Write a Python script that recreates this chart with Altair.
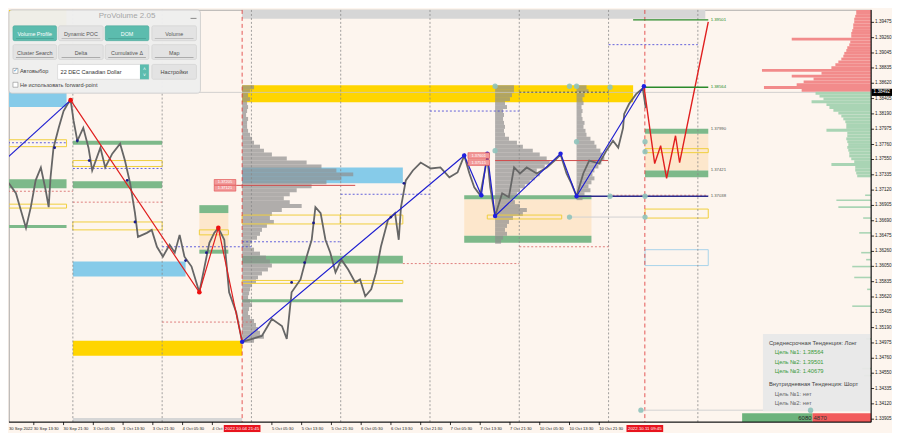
import altair as alt
import pandas as pd
import numpy as np

# ---------------- data ----------------
# x = trading-hour index counted from 30 Sep 2022 05:30 (weekend removed), y = USDCAD price
X_TICKS = [0, 8, 16, 24, 32, 40, 48, 56, 72, 80, 88, 96, 104, 112, 120, 128, 136, 144, 152, 160]
X_TICK_LABELS = ["30 Sep 2022", "30 Sep 13:30", "30 Sep 21:30", "3 Oct 05:30", "3 Oct 13:30",
                 "3 Oct 21:30", "4 Oct 05:30", "4 Oct", "5 Oct 05:30", "5 Oct 13:30",
                 "5 Oct 21:30", "6 Oct 05:30", "6 Oct 13:30", "6 Oct 21:30", "7 Oct 05:30",
                 "7 Oct 13:30", "7 Oct 21:30", "10 Oct 05:30", "10 Oct 13:30", "10 Oct 21:30"]
Y_TICKS = [1.39690, 1.39475, 1.39260, 1.39045, 1.38835, 1.38620, 1.38405, 1.38190, 1.37975,
           1.37760, 1.37550, 1.37335, 1.37120, 1.36905, 1.36690, 1.36475, 1.36260, 1.36050,
           1.35835, 1.35620, 1.35405, 1.35190, 1.34975, 1.34760, 1.34550, 1.34335, 1.34120, 1.33905]
TIME_MARKS_H = [64.0, 172.25]
TIME_MARKS_TXT = ["2022.10.04 21:45", "2022.10.11 09:45"]
CURRENT_PRICE = 1.38492

PRICE_H = [-0.8, 1.3, 3.2, 4.5, 5.9, 7.2, 8.5, 9.9, 11.2, 12.0, 12.5, 13.3, 14.7, 16.0, 17.1, 17.9,
           18.7, 19.7, 21.3, 22.7, 23.7, 25.9, 27.2, 29.1, 31.2, 32.5, 33.9, 35.2, 36.0, 38.4, 39.7,
           41.1, 42.7, 44.5, 45.9, 47.2, 48.5, 50.4, 52.5, 53.9, 55.2, 56.5, 57.6, 59.2, 60.5, 62.4,
           64.0, 66.7, 69.3, 72.0, 74.7, 76.0, 77.3, 79.7, 81.1, 82.7, 83.7, 85.1, 86.4, 87.7, 89.1,
           90.7, 92.5, 94.4, 95.7, 97.1, 98.7, 100.0, 101.3, 103.2, 105.1, 106.1, 106.7, 108.0,
           109.9, 112.0, 114.7, 117.3, 119.7, 121.9, 123.7, 125.1, 126.4, 128.0, 129.9, 130.7,
           132.0, 133.9, 135.7, 137.1, 138.7, 140.5, 143.2, 145.9, 148.0, 149.6, 151.2, 152.5,
           153.9, 155.7, 157.3, 160.0, 161.9, 163.7, 165.1, 166.4, 166.7, 168.0, 169.9, 171.7, 172.5]
PRICE_P = [1.37021, 1.37215, 1.37076, 1.36840, 1.36589, 1.36881, 1.37257, 1.37438, 1.37118, 1.36881,
           1.37299, 1.37716, 1.37994, 1.38230, 1.38328, 1.38383, 1.38091, 1.37813, 1.37994, 1.37716,
           1.37396, 1.37716, 1.37438, 1.37632, 1.37771, 1.37535, 1.37215, 1.36798, 1.36464, 1.36520,
           1.36562, 1.36325, 1.36186, 1.36353, 1.36242, 1.36492, 1.36186, 1.36047, 1.35686, 1.36047,
           1.36381, 1.36520, 1.36589, 1.36423, 1.35686, 1.35407, 1.34990, 1.35032, 1.35074, 1.35310,
           1.35213, 1.35032, 1.35686, 1.35866, 1.36144, 1.36423, 1.36881, 1.36798, 1.36423, 1.36242,
           1.35964, 1.36144, 1.36005, 1.35825, 1.35866, 1.35630, 1.35727, 1.35964, 1.36325, 1.36701,
           1.36798, 1.36423, 1.36881, 1.37257, 1.37396, 1.37507, 1.37424, 1.37438, 1.37299, 1.37368,
           1.37605, 1.37354, 1.37160, 1.37048, 1.37577, 1.37160, 1.36756, 1.37076, 1.37021, 1.37438,
           1.37354, 1.37438, 1.37354, 1.37438, 1.37535, 1.37619, 1.37354, 1.37215, 1.37034, 1.37354,
           1.37535, 1.37493, 1.37674, 1.37813, 1.37716, 1.37994, 1.38189, 1.38328, 1.38467, 1.38550,
           1.38272]

ZZ_BLUE1_H = [-0.8, 17.9]
ZZ_BLUE1_P = [1.37493, 1.38383]
ZZ_RED1_H = [17.9, 52.5, 57.6, 64.0]
ZZ_RED1_P = [1.38383, 1.35686, 1.36589, 1.34990]
ZZ_BLUE2_H = [64.0, 123.7, 128.3, 129.9, 132.0, 149.6, 153.9, 172.0]
ZZ_BLUE2_P = [1.34990, 1.37605, 1.37048, 1.37632, 1.36756, 1.37632, 1.37034, 1.38578]
ZZ_FORECAST_H = [172.0, 174.9, 176.5, 178.1, 180.5, 181.6, 189.3]
ZZ_FORECAST_P = [1.38578, 1.37493, 1.37744, 1.37285, 1.37883, 1.37507, 1.39482]

FRACTAL_H = [13.6, 19.7, 22.9, 33.1, 35.2, 48.8, 54.4, 77.3, 80.8, 83.2, 104.0, 107.5]
FRACTAL_P = [1.37716, 1.37813, 1.37535, 1.37257, 1.36673, 1.36131, 1.36242, 1.35825, 1.36103,
             1.36659, 1.36742, 1.37215]
TEAL_H = [132.0, 152.0, 153.9, 162.9, 132.0, 153.9, 152.0, 162.9, 172.3, 172.3, 172.3, 172.3, 171.2, 216.8]
TEAL_P = [1.38578, 1.38578, 1.38578, 1.38564, 1.37674, 1.37799, 1.36742, 1.37034, 1.37034, 1.37799,
          1.37660, 1.36742, 1.34031, 1.34031]

# zones: (start h, end h, top price, bottom price)
GREEN_ZONES = [(0, 16.8, 1.37271, 1.37146), (0, 16.8, 1.36631, 1.36589),
               (18.5, 42.5, 1.37813, 1.37758), (18.5, 42.5, 1.37243, 1.37146),
               (52.5, 60.3, 1.36909, 1.36798), (52.5, 60.3, 1.36284, 1.36228),
               (64, 107.2, 1.36200, 1.36089), (64, 107.2, 1.35588, 1.35547),
               (123.7, 157.9, 1.37048, 1.36993), (123.7, 157.9, 1.36478, 1.36381),
               (172.3, 189.3, 1.37980, 1.37911), (172.3, 189.3, 1.37396, 1.37299)]
YELLOW_ZONES = [(18.5, 64, 1.35004, 1.34796), (64, 169.1, 1.38592, 1.38355), (0, 16.8, 1.39760, 1.39343)]
BLUE_ZONES = [(0, 16.8, 1.38536, 1.38286), (18.5, 48.8, 1.36117, 1.35908), (64, 107.2, 1.37438, 1.37215)]
ORANGE_ZONES = [(52.5, 60.3, 1.36798, 1.36284), (123.7, 157.9, 1.36993, 1.36478),
                (172.3, 189.3, 1.37911, 1.37396)]
YELLOW_BOXES = [(0, 16.8, 1.37827, 1.37730), (0, 16.8, 1.36923, 1.36868),
                (18.5, 42.5, 1.37535, 1.37452), (18.5, 42.5, 1.36673, 1.36562),
                (52.5, 60.3, 1.36562, 1.36492), (64, 90.4, 1.36770, 1.36645),
                (90.4, 107.2, 1.36770, 1.36645), (64, 107.2, 1.35852, 1.35811),
                (129.9, 149.9, 1.36770, 1.36715), (172.3, 189.3, 1.37702, 1.37646),
                (172.3, 189.3, 1.36854, 1.36728)]
BLUE_BOXES = [(172.3, 189.3, 1.36284, 1.36061)]
GREY_ZONES = [(64, 188.5, 1.39760, 1.39524), (18.5, 64, 1.33920, 1.33864)]

# horizontal levels: (start h, end h, price)
BLUE_DOTTED = [(0, 16.8, 1.37785), (18.5, 42.5, 1.37424), (42.5, 66.5, 1.36325), (64, 90.5, 1.36395),
               (90.5, 114.5, 1.37062), (114.5, 138.5, 1.38230), (162.5, 186.5, 1.39162)]
RED_DOTTED = [(0, 18.5, 1.37104), (18.5, 42.5, 1.36951), (42.5, 66.5, 1.35268),
              (107.2, 138.5, 1.36089), (138.5, 162.5, 1.36325), (162.5, 189.3, 1.37048)]
DARK_DOTTED = [(138.5, 162.5, 1.38495)]
POC_LINES = [(62.4, 94.4, 1.37187), (132.0, 162.4, 1.37535)]
GREEN_LEVELS = [(169.1, 189.3, 1.39510), (172.3, 189.3, 1.38564)]
NAVY_LEVELS = [(153.9, 189.3, 1.37034)]
GREY_LEVELS = [(152.0, 172.3, 1.36742), (171.2, 216.8, 1.34031)]
DAY_LINES_H = [18.5, 42.5, 66.5, 90.5, 114.5, 138.5, 162.5, 186.5]

LEVEL_LABEL_P = [1.39510, 1.38564, 1.37980, 1.37396, 1.37034]
LEVEL_LABEL_TXT = ["1.39501", "1.38564", "1.37990", "1.37421", "1.37038"]
LEVEL_LABEL_COL = ["#2a8a2a", "#2a8a2a", "#555555", "#555555", "#555555"]
POC_LABEL_H = [59.4, 59.4, 127.6, 127.6]
POC_LABEL_P = [1.37229, 1.37146, 1.37605, 1.37507]
POC_LABEL_TXT = ["1.37205", "1.37121", "1.37601", "1.37515"]

# volume profiles: start h, price of top bin, bin volumes (top to bottom)
PROF_STEP = 0.000556
PROFILE1_START, PROFILE1_TOP = 64.0, 1.38564
PROFILE1_VOL = [12, 8, 6, 8, 5, 6, 5, 4, 6, 5, 5, 6, 8, 10, 12, 18, 22, 30, 45, 65, 80, 95, 112, 100,
                85, 70, 55, 48, 42, 48, 60, 40, 30, 28, 32, 25, 20, 18, 15, 10, 8, 12, 18, 24, 28, 30,
                26, 20, 16, 14, 10, 8, 7, 6, 8, 10, 7, 6, 8, 12, 14, 16, 18, 22, 12]
PROFILE2_START, PROFILE2_TOP = 132.0, 1.38564
PROFILE2_VOL = [19, 19, 17, 15, 10, 12, 8, 9, 8, 9, 10, 9, 10, 14, 22, 28, 38, 45, 52, 55, 50, 42, 45,
                40, 35, 30, 25, 22, 18, 20, 25, 32, 28, 18, 14, 12, 10, 12, 8, 6]
PROFILE3_START, PROFILE3_TOP = 153.9, 1.38564
PROFILE3_VOL = [10, 12, 8, 6, 7, 5, 6, 5, 6, 8, 7, 9, 10, 14, 18, 20, 24, 26, 28, 25, 22, 18, 16, 18,
                15, 12, 14, 8, 6]

# depth of market
DOM_STEP = 0.0004
DOM_ASK_TOP = 1.39720
DOM_ASK_VOL = [12, 14, 15, 15, 16, 17, 17, 18, 18, 19, 20, 20, 80, 21, 22, 24, 25, 27, 28, 30, 33, 36,
               40, 110, 50, 80, 58, 68, 75, 108, 70]
DOM_BID_TOP = 1.38480
DOM_BID_VOL = [56, 52, 48, 60, 45, 42, 38, 33, 30, 28, 26, 25, 25, 45, 24, 24, 25, 24, 23, 24, 23, 22,
               22, 20, 17, 40, 16, 16, 15, 14]
DOM_EXTRA_P = [1.37048, 1.36979, 1.36881, 1.36728, 1.36520, 1.36242, 1.36144, 1.36047, 1.35894,
               1.35727, 1.35491, 1.35032, 1.34615, 1.34517]
DOM_EXTRA_VOL = [6, 35, 33, 8, 12, 10, 5, 19, 17, 4, 19, 5, 9, 7]
DOM_BUY, DOM_SELL = "6080", "4870"

INFO_MID = "Среднесрочная Тенденция: Лонг"
INFO_MID_TARGETS = ["1.38564", "1.39501", "1.40679"]
INFO_INTRA = "Внутридневная Тенденция: Шорт"
INFO_INTRA_TARGETS = ["нет", "нет"]

BUTTONS_ROW1 = ["Volume Profile", "Dynamic POC", "DOM", "Volume"]
BUTTONS_ROW2 = ["Cluster Search", "Delta", "Cumulative Δ", "Map"]
ACTIVE_BUTTONS = ["Volume Profile", "DOM"]

# ---------------- layout ----------------
# The page margin is 8px, so the plot shows the reference from its 8th pixel on.
W, H = 866, 414
REF_X0, REF_Y0 = 8.0, 8.0
REF_W, REF_H = 869.0, 416.0
PX_PER_H = 3.75
X_MIN, X_MAX = 1.333, 233.07
Y_MIN, Y_MAX = 1.33864, 1.39649
FONT = "Liberation Sans"
BG = "#fdf5ee"
GREEN = "#7db98a"
TEAL = "#5cbcae"
AXIS_FS = 4.2


def sx(v):
    return max(0.0, (v - REF_X0) * W / REF_W)


def sy(v):
    return max(0.0, (v - REF_Y0) * H / REF_H)


XS = alt.Scale(domain=[X_MIN, X_MAX], nice=False, zero=False)
YS = alt.Scale(domain=[Y_MIN, Y_MAX], nice=False, zero=False)


def xq(f):
    return alt.X(f"{f}:Q", scale=XS, axis=None)


def yq(f):
    return alt.Y(f"{f}:Q", scale=YS, axis=None)


def zones(rows, **mark):
    df = pd.DataFrame(rows, columns=["h1", "h2", "p1", "p2"])
    return alt.Chart(df).mark_rect(clip=True, **mark).encode(x=xq("h1"), x2="h2", y=yq("p1"), y2="p2")


def hlines(rows, **mark):
    df = pd.DataFrame(rows, columns=["h1", "h2", "p"])
    return alt.Chart(df).mark_rule(clip=True, **mark).encode(x=xq("h1"), x2="h2", y=yq("p"))


def profile(start, top, vols, **mark):
    vols = np.array(vols, dtype=float)
    lv = top - PROF_STEP * np.arange(len(vols))
    df = pd.DataFrame({"h1": start, "h2": start + vols / PX_PER_H,
                       "p1": lv + PROF_STEP / 2, "p2": lv - PROF_STEP / 2})
    return alt.Chart(df).mark_rect(clip=True, **mark).encode(x=xq("h1"), x2="h2", y=yq("p1"), y2="p2")


def dom(prices, vols, thick, **mark):
    prices = np.array(prices, dtype=float)
    vols = np.array(vols, dtype=float)
    df = pd.DataFrame({"h1": X_MAX - vols / PX_PER_H, "h2": X_MAX,
                       "p1": prices + thick / 2, "p2": prices - thick / 2})
    return alt.Chart(df).mark_rect(clip=True, **mark).encode(x=xq("h1"), x2="h2", y=yq("p1"), y2="p2")


def path(hs, ps, color, width):
    df = pd.DataFrame({"h": hs, "p": ps, "i": range(len(hs))})
    return alt.Chart(df).mark_line(color=color, strokeWidth=width, clip=True).encode(
        x=xq("h"), y=yq("p"), order="i:Q")


def dots(hs, ps, color, size, opacity=1.0):
    df = pd.DataFrame({"h": hs, "p": ps})
    return alt.Chart(df).mark_circle(color=color, size=size, opacity=opacity, clip=True).encode(
        x=xq("h"), y=yq("p"))


DUMMY = pd.DataFrame({"k": [0]})


def px_rect(x1, y1, x2, y2, fill, stroke="", sw=0.0, opacity=1.0, radius=0):
    kw = dict(fill=fill, opacity=opacity, cornerRadius=radius, strokeWidth=sw)
    if stroke:
        kw["stroke"] = stroke
    return alt.Chart(DUMMY).mark_rect(**kw).encode(
        x=alt.value(sx(x1)), x2=alt.value(sx(x2)), y=alt.value(sy(y1)), y2=alt.value(sy(y2)))


def px_text(x, y, s, size, color, align="left", weight="normal"):
    return alt.Chart(DUMMY).mark_text(align=align, baseline="middle", fontSize=size, color=color,
                                      fontWeight=weight, font=FONT).encode(
        x=alt.value(sx(x)), y=alt.value(sy(y)), text=alt.value(s))


layers = []
layers.append(zones(GREY_ZONES, color="#d6d6d6"))
layers.append(zones(ORANGE_ZONES, color="#fde6c8", opacity=0.9))
layers.append(zones(YELLOW_ZONES, color="#ffd500"))
layers.append(zones(BLUE_ZONES, color="#86cbe9"))
layers.append(zones(GREEN_ZONES, color=GREEN))
layers.append(profile(PROFILE1_START, PROFILE1_TOP, PROFILE1_VOL, color="#8f8f8f", opacity=0.7))
layers.append(profile(PROFILE2_START, PROFILE2_TOP, PROFILE2_VOL, color="#8f8f8f", opacity=0.7))
layers.append(profile(PROFILE3_START, PROFILE3_TOP, PROFILE3_VOL, color="#8f8f8f", opacity=0.7))
layers.append(zones(YELLOW_BOXES, fillOpacity=0, stroke="#f0cf3c", strokeWidth=1))
layers.append(zones(BLUE_BOXES, fillOpacity=0, stroke="#a8d4ea", strokeWidth=1))

day_df = pd.DataFrame({"h": DAY_LINES_H})
layers.append(alt.Chart(day_df).mark_rule(color="#8a8a8a", strokeDash=[2, 2], strokeWidth=0.8).encode(x=xq("h")))
tm_df = pd.DataFrame({"h": TIME_MARKS_H, "t": TIME_MARKS_TXT})
layers.append(alt.Chart(tm_df).mark_rule(color="#e03030", strokeDash=[4, 3], strokeWidth=0.8).encode(x=xq("h")))
cur_df = pd.DataFrame({"p": [CURRENT_PRICE]})
layers.append(alt.Chart(cur_df).mark_rule(color="#c8c8c8", strokeWidth=0.8).encode(y=yq("p")))
layers.append(hlines(BLUE_DOTTED, color="#3b3bd6", strokeDash=[2, 2], strokeWidth=0.8))
layers.append(hlines(RED_DOTTED, color="#d86060", strokeDash=[2, 2], strokeWidth=0.8))
layers.append(hlines(DARK_DOTTED, color="#333333", strokeDash=[2, 2], strokeWidth=0.8))
layers.append(hlines(GREY_LEVELS, color="#d2d2d2", strokeWidth=1))
layers.append(hlines(POC_LINES, color="#d04a4a", strokeWidth=1))

layers.append(path(PRICE_H, PRICE_P, "#666666", 1.8))

layers.append(path(ZZ_BLUE1_H, ZZ_BLUE1_P, "#1f1fd0", 1.2))
layers.append(path(ZZ_RED1_H, ZZ_RED1_P, "#e01f1f", 1.2))
layers.append(path(ZZ_BLUE2_H, ZZ_BLUE2_P, "#1f1fd0", 1.2))
layers.append(path(ZZ_FORECAST_H, ZZ_FORECAST_P, "#e01f1f", 1.4))

layers.append(hlines(GREEN_LEVELS, color="#2a8a2a", strokeWidth=1.4))
layers.append(hlines(NAVY_LEVELS, color="#2b2b8c", strokeWidth=1.5))

layers.append(dots(TEAL_H, TEAL_P, "#8fc3bb", 28, 0.9))
layers.append(dots(FRACTAL_H, FRACTAL_P, "#1a1a8a", 8))
layers.append(dots(ZZ_RED1_H[:3], ZZ_RED1_P[:3], "#ee1111", 22))
layers.append(dots(ZZ_BLUE2_H, ZZ_BLUE2_P, "#1f1fe0", 20))

layers.append(dom(DOM_ASK_TOP - DOM_STEP * np.arange(len(DOM_ASK_VOL)), DOM_ASK_VOL, DOM_STEP, color="#f28b8b"))
layers.append(dom(DOM_BID_TOP - DOM_STEP * np.arange(len(DOM_BID_VOL)), DOM_BID_VOL, DOM_STEP, color="#a9d4b4"))
layers.append(dom(DOM_EXTRA_P, DOM_EXTRA_VOL, 0.00022, color="#a9d4b4"))

lvl_df = pd.DataFrame({"p": LEVEL_LABEL_P, "t": LEVEL_LABEL_TXT, "c": LEVEL_LABEL_COL, "h": 189.4})
layers.append(alt.Chart(lvl_df).mark_text(align="left", baseline="middle", fontSize=4.3, dx=2, font=FONT).encode(
    x=xq("h"), y=yq("p"), text="t:N", color=alt.Color("c:N", scale=None)))

poc_df = pd.DataFrame({"h": POC_LABEL_H, "p": POC_LABEL_P, "t": POC_LABEL_TXT})
poc_df["h1"] = poc_df["h"] - 2.9
poc_df["h2"] = poc_df["h"] + 2.9
poc_df["p1"] = poc_df["p"] + 0.00040
poc_df["p2"] = poc_df["p"] - 0.00040
layers.append(alt.Chart(poc_df).mark_rect(fill="#f29a9a", stroke="#e04848", strokeWidth=0.6).encode(
    x=xq("h1"), x2="h2", y=yq("p1"), y2="p2"))
layers.append(alt.Chart(poc_df).mark_text(fontSize=4, color="#ffffff", font=FONT, baseline="middle").encode(
    x=xq("h"), y=yq("p"), text="t:N"))

# info box and bottom buy/sell bar
layers.append(px_rect(768, 335, 876, 413, "#e8e8e8", opacity=0.95))
layers.append(px_text(774, 344, INFO_MID, 5.8, "#444444"))
for i, t in enumerate(INFO_MID_TARGETS):
    layers.append(px_text(780, 353.5 + 9.5 * i, f"Цель №{i + 1}: {t}", 5.8, "#3a9a3a"))
layers.append(px_text(774, 386, INFO_INTRA, 5.8, "#444444"))
for i, t in enumerate(INFO_INTRA_TARGETS):
    layers.append(px_text(780, 395.5 + 9.5 * i, f"Цель №{i + 1}: {t}", 5.8, "#666666"))
layers.append(px_rect(747, 415, 818, 424, "#6db37c"))
layers.append(px_rect(818, 415, 877, 424, "#f25b5b"))
layers.append(px_text(817, 419.5, DOM_BUY, 6, "#222222", align="right"))
layers.append(px_text(819, 419.5, DOM_SELL, 6, "#333333"))
layers.append(dots([TEAL_H[-1]], [TEAL_P[-1]], "#8fc3bb", 28, 0.9))

# ProVolume panel
layers.append(px_rect(7, 7, 201, 92, "#efefef", stroke="#c9c9c9", sw=0.8, opacity=0.97, radius=3))
layers.append(px_text(127, 14.5, "ProVolume 2.05", 8, "#a6a6a6", align="center"))
layers.append(px_rect(191, 16, 197, 17, "#888888"))
BTN_X = [(12, 56), (58, 103), (105, 149), (152, 197)]
for row, (labels, y1, y2) in enumerate([(BUTTONS_ROW1, 24, 39), (BUTTONS_ROW2, 43, 58)]):
    for (x1, x2), lab in zip(BTN_X, labels):
        active = lab in ACTIVE_BUTTONS
        layers.append(px_rect(x1, y1, x2, y2, TEAL if active else "#e3e3e3",
                              stroke="#4fa99c" if active else "#d0d0d0", sw=0.6, radius=1.5))
        layers.append(px_rect(x1 + 3, y2 - 2.2, x2 - 3, y2 - 1.6, "#9a9a9a" if not active else "#3f8f84"))
        layers.append(px_text((x1 + x2) / 2, (y1 + y2) / 2 + 0.5, lab, 5.4,
                              "#ffffff" if active else "#555555", align="center"))
layers.append(px_rect(12, 67, 17, 72, "#ffffff", stroke="#8a8a8a", sw=0.6))
layers.append(px_text(12.2, 69, "✓", 6, "#4a90c0"))
layers.append(px_text(19, 70, "Автовыбор", 5.6, "#444444"))
layers.append(px_rect(57, 63, 149, 78, "#ffffff", stroke="#cfcfcf", sw=0.6))
layers.append(px_rect(140, 63, 149, 78, TEAL))
layers.append(px_text(144.5, 68, "˄", 5, "#ffffff", align="center"))
layers.append(px_text(144.5, 73.5, "˅", 5, "#ffffff", align="center"))
layers.append(px_text(60, 70.5, "22 DEC Canadian Dollar", 5.6, "#333333"))
layers.append(px_rect(152, 63, 197, 78, "#e3e3e3", stroke="#d0d0d0", sw=0.6, radius=1.5))
layers.append(px_text(174.5, 70.5, "Настройки", 5.6, "#444444", align="center"))
layers.append(px_rect(12, 81, 17, 86, "#ffffff", stroke="#8a8a8a", sw=0.6))
layers.append(px_text(19, 84, "Не использовать forward-point", 5.6, "#444444"))

# axes drawn as marks: price scale on the right, time scale at the bottom
ytk = pd.DataFrame({"v": [v for v in Y_TICKS if Y_MIN <= v <= Y_MAX]})
layers.append(alt.Chart(ytk).mark_rule(color="#000000", strokeWidth=0.8).encode(
    x=alt.value(W), x2=alt.value(W + 3), y=yq("v")))
layers.append(alt.Chart(ytk).mark_text(align="left", baseline="middle", fontSize=4.6, color="#222222",
                                       font=FONT).encode(
    x=alt.value(W + 4), y=yq("v"), text=alt.Text("v:Q", format=".5f")))
xtk = pd.DataFrame({"v": X_TICKS, "t": X_TICK_LABELS})
xin = xtk[xtk["v"] >= X_MIN]
layers.append(alt.Chart(xin).mark_rule(color="#000000", strokeWidth=0.8).encode(
    x=xq("v"), y=alt.value(H), y2=alt.value(H + 3)))
layers.append(alt.Chart(xin).mark_text(align="left", baseline="middle", fontSize=AXIS_FS, color="#222222",
                                       font=FONT).encode(
    x=xq("v"), y=alt.value(H + 6.5), text="t:N"))
layers.append(alt.Chart(DUMMY).mark_text(align="left", baseline="middle", fontSize=AXIS_FS, color="#222222",
                                         font=FONT).encode(
    x=alt.value(0), y=alt.value(H + 6.5), text=alt.value(X_TICK_LABELS[0])))
layers.append(alt.Chart(DUMMY).mark_rule(color="#000000", strokeWidth=1).encode(
    x=alt.value(W), y=alt.value(0), y2=alt.value(H)))
layers.append(alt.Chart(DUMMY).mark_rule(color="#000000", strokeWidth=1).encode(
    x=alt.value(0), x2=alt.value(W), y=alt.value(H)))

# red time markers on the x axis and current price box on the y axis
tm_df["h1"] = tm_df["h"] - 18.5 / PX_PER_H
tm_df["h2"] = tm_df["h"] + 18.5 / PX_PER_H
layers.append(alt.Chart(tm_df).mark_rect(color="#e8141e").encode(
    x=xq("h1"), x2="h2", y=alt.value(H + 3), y2=alt.value(H + 10)))
layers.append(alt.Chart(tm_df).mark_text(color="#ffffff", fontSize=4.4, font=FONT, baseline="middle").encode(
    x=xq("h"), y=alt.value(H + 6.7), text="t:N"))
cur_df["p1"] = cur_df["p"] + 0.00050
cur_df["p2"] = cur_df["p"] - 0.00050
layers.append(alt.Chart(cur_df).mark_rect(color="#000000").encode(
    x=alt.value(W + 0.5), x2=alt.value(W + 21), y=yq("p1"), y2="p2"))
layers.append(alt.Chart(cur_df).mark_text(color="#ffffff", fontSize=4.6, font=FONT, align="left",
                                          baseline="middle").encode(
    x=alt.value(W + 2.5), y=yq("p"), text=alt.Text("p:Q", format=".5f")))

chart = alt.layer(*layers).properties(width=W, height=H, padding=0, background=BG).configure_view(
    stroke="#9a9a9a", strokeWidth=0.8, fill=BG).configure_text(font=FONT)

chart.save("out.html", embed_options={"renderer": "svg", "actions": False})
